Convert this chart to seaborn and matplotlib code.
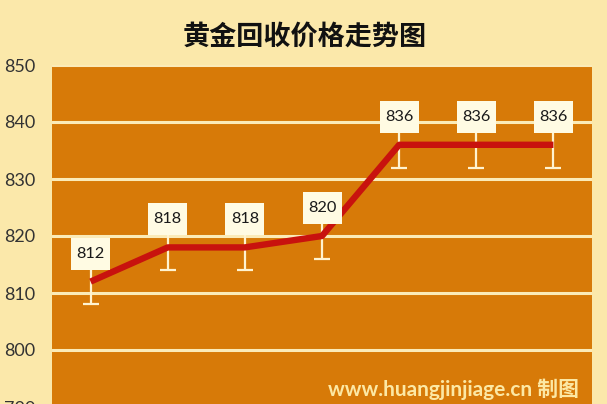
import matplotlib
matplotlib.use("Agg")
import matplotlib.pyplot as plt
from matplotlib.patches import Rectangle
import seaborn as sns
import pandas as pd

# Data
points = [1, 2, 3, 4, 5, 6, 7]
prices = [812, 818, 818, 820, 836, 836, 836]
errors = [4, 4, 4, 4, 4, 4, 4]
yticks = [790, 800, 810, 820, 830, 840, 850]
title = "黄金回收价格走势图"
credit = "www.huangjinjiage.cn 制图"

sns.set_style("white")
plt.rcParams['font.family'] = ['Lato', 'Noto Sans CJK SC', 'DejaVu Sans']

bg = "#FBE8AA"
plot_bg = "#D77A08"
grid_c = "#FBEBB8"
line_c = "#C8120E"

W, H = 607, 404
fig = plt.figure(figsize=(W / 100, H / 100), dpi=100, facecolor=bg)
left, right, top = 52, 592, 65
px_per_unit = 5.7
ymin, ymax = 780, 850
height_px = (ymax - ymin) * px_per_unit
bottom_px = top + height_px
ax = fig.add_axes([left / W, (H - bottom_px) / H, (right - left) / W, height_px / H])
ax.set_facecolor(plot_bg)

df = pd.DataFrame({"pt": points, "price": prices, "err": errors})

for y in yticks:
    ax.axhline(y, color=grid_c, lw=2.2, zorder=1)

ax.errorbar(df["pt"], df["price"], yerr=df["err"], fmt="none", ecolor="#FFF3D0",
            elinewidth=1.6, capsize=6, capthick=1.6, zorder=2)
sns.lineplot(data=df, x="pt", y="price", ax=ax, color=line_c, lw=4.6, zorder=3,
             solid_capstyle="butt")

# label boxes (size in pixels converted to data units)
box_w = 39 / ((right - left) / 7.0)
box_h = 32 / px_per_unit
box_off = 28 / px_per_unit
for x, v in zip(df["pt"], df["price"]):
    cy = v + box_off
    ax.add_patch(Rectangle((x - box_w / 2, cy - box_h / 2), box_w, box_h,
                           fc="#FFFBE3", ec="none", zorder=5))
    ax.text(x, cy, str(v), ha="center", va="center", fontsize=11.8,
            color="#1a1a1a", family=["Lato", "DejaVu Sans"], zorder=6)

ax.set_xlim(0.5, 7.5)
ax.set_ylim(ymin, ymax)
ax.set_yticks(yticks)
ax.set_yticklabels([str(t) for t in yticks], fontsize=13, color="#333333")
ax.set_xticks([])
ax.set_xlabel("")
ax.set_ylabel("")
ax.tick_params(axis="y", length=0, pad=12)
for s in ax.spines.values():
    s.set_visible(False)

fig.text(305 / W, 1 - 37 / H, title, ha="center", va="center", fontsize=19.5,
         fontweight="bold", color="#111111", family=["Noto Sans CJK SC", "DejaVu Sans"])
fig.text(453 / W, 1 - 389 / H, credit, ha="center", va="center", fontsize=15,
         fontweight="bold", color="#FCE8A4", family=["Lato", "Noto Sans CJK SC", "DejaVu Sans"])

fig.savefig("out.png", dpi=100, facecolor=bg)
